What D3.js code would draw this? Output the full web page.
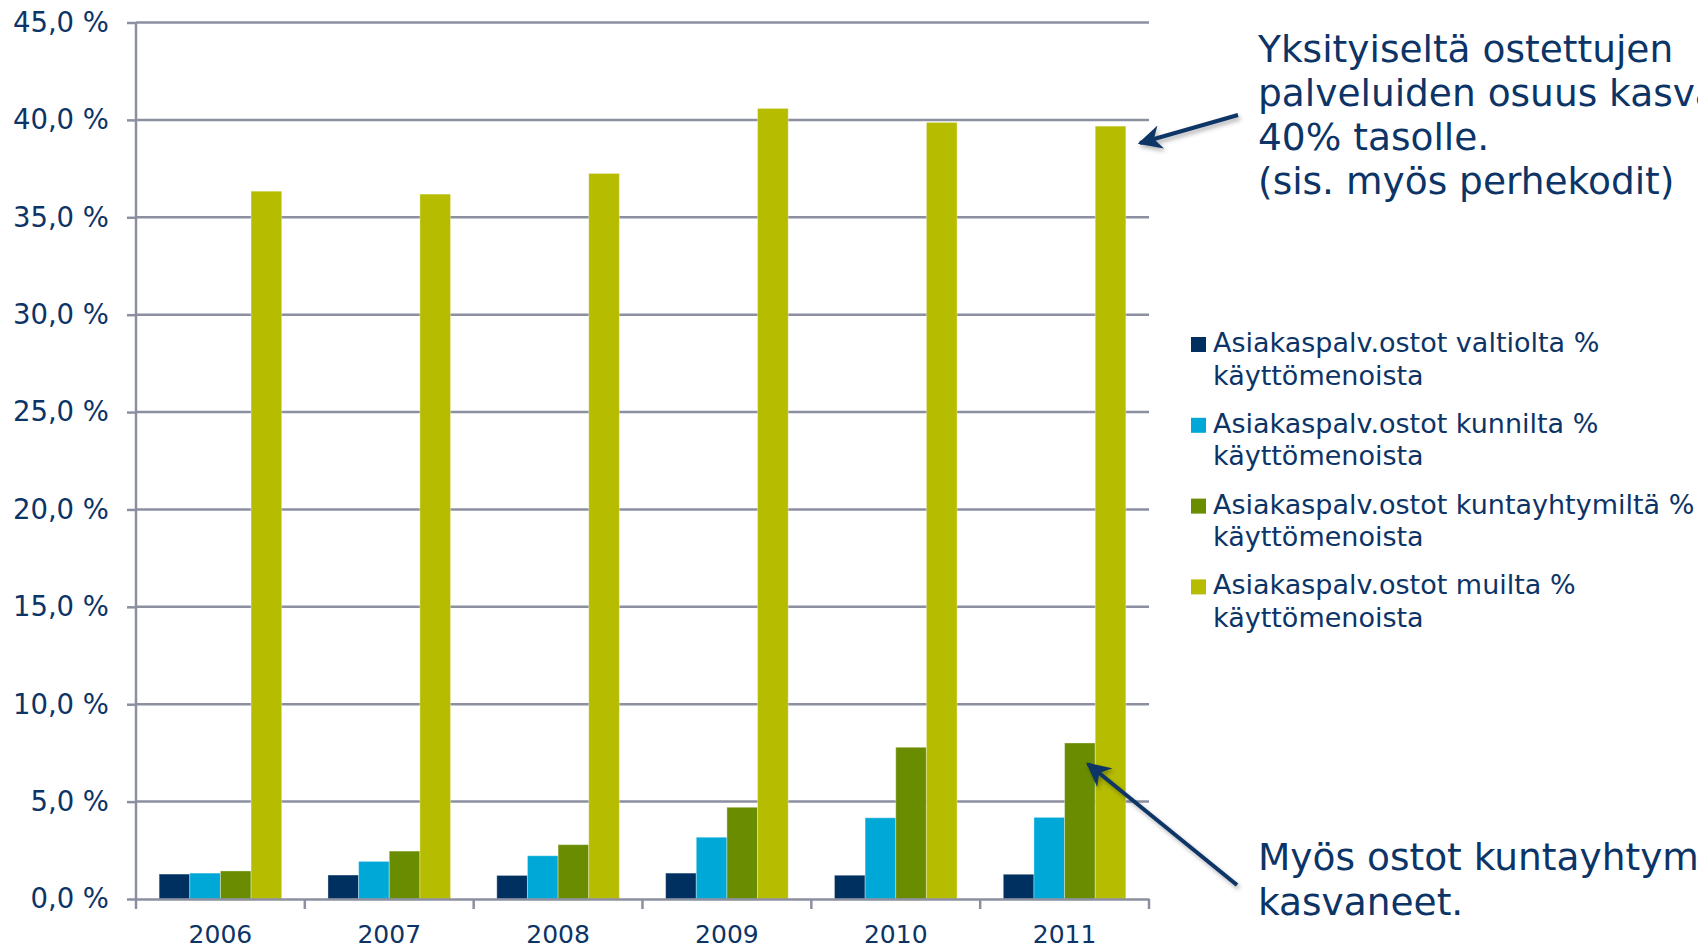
<!DOCTYPE html>
<html lang="fi">
<head>
<meta charset="UTF-8">
<title>Asiakaspalvelujen ostot</title>
<script src="https://cdn.jsdelivr.net/npm/d3@7"></script>
<style>
  body { margin: 0; background: #fff; }
  svg { display: block; }
  text { font-family: "DejaVu Sans", Verdana, sans-serif; fill: #0c3466; }
</style>
</head>
<body>
<script>
const years = ["2006", "2007", "2008", "2009", "2010", "2011"];
const seriesNames = [
  "Asiakaspalv.ostot valtiolta % käyttömenoista",
  "Asiakaspalv.ostot kunnilta % käyttömenoista",
  "Asiakaspalv.ostot kuntayhtymiltä % käyttömenoista",
  "Asiakaspalv.ostot muilta % käyttömenoista"
];
const valtiolta = [1.28, 1.23, 1.21, 1.33, 1.22, 1.27];
const kunnilta = [1.33, 1.93, 2.22, 3.17, 4.17, 4.19];
const kuntayhtymilta = [1.44, 2.46, 2.79, 4.71, 7.79, 8.01];
const muilta = [36.34, 36.19, 37.25, 40.59, 39.87, 39.68];
const yTicks = [0, 5, 10, 15, 20, 25, 30, 35, 40, 45];
const colors = ["#00305f", "#00a8d7", "#6a8c00", "#b6bc00"];
const noteTop = ["Yksityiseltä ostettujen", "palveluiden osuus kasvanut", "40% tasolle.", "(sis. myös perhekodit)"];
const noteBottom = ["Myös ostot kuntayhtymiltä", "kasvaneet."];

const allSeries = [valtiolta, kunnilta, kuntayhtymilta, muilta];
const width = 1698, height = 948;

const svg = d3.select("body").append("svg")
    .attr("width", width)
    .attr("height", height);

const defs = svg.append("defs");
defs.append("filter").attr("id", "shadow")
    .attr("x", "-20%").attr("y", "-20%").attr("width", "140%").attr("height", "140%")
  .append("feDropShadow")
    .attr("dx", 2).attr("dy", 3).attr("stdDeviation", 2)
    .attr("flood-color", "#000").attr("flood-opacity", 0.3);
defs.append("marker").attr("id", "head")
    .attr("viewBox", "0 0 10 10")
    .attr("refX", 9).attr("refY", 5)
    .attr("markerWidth", 6).attr("markerHeight", 6)
    .attr("markerUnits", "strokeWidth")
    .attr("orient", "auto")
  .append("path")
    .attr("d", "M0,0 L10,5 L0,10 L3,5 Z")
    .attr("fill", "#0c3466");

const x = d3.scaleBand().domain(years).range([136, 1149]).padding(0);
const x1 = d3.scaleBand().domain(d3.range(4))
    .range([x.bandwidth() * 0.137, x.bandwidth() * 0.863]).padding(0);
const y = d3.scaleLinear().domain([0, 45]).range([899, 22.5]);

// gridlines + y axis
const yAxis = svg.append("g")
    .attr("transform", "translate(136,0)")
    .call(d3.axisLeft(y).tickValues(yTicks).tickSize(9).tickPadding(18)
      .tickFormat(d => d.toFixed(1).replace(".", ",") + " %"));
yAxis.select(".domain").remove();
yAxis.selectAll(".tick line").attr("stroke", "#8c8fa0").attr("stroke-width", 2.5);
yAxis.selectAll(".tick text")
    .attr("font-size", 27.5)
    .attr("fill", "#0c3466");

svg.append("g").selectAll("line")
    .data(yTicks.filter(d => d > 0))
    .join("line")
    .attr("x1", 136).attr("x2", 1149)
    .attr("y1", d => y(d)).attr("y2", d => y(d))
    .attr("stroke", "#8c8fa0").attr("stroke-width", 2.5);

// bars
const groups = svg.append("g").selectAll("g")
    .data(years)
    .join("g")
    .attr("transform", d => `translate(${x(d)},0)`);

groups.selectAll("rect")
    .data((yr, i) => allSeries.map((s, k) => ({ k, v: s[i] })))
    .join("rect")
    .attr("x", d => x1(d.k))
    .attr("width", x1.bandwidth())
    .attr("y", d => y(d.v))
    .attr("height", d => y(0) - y(d.v))
    .attr("fill", d => colors[d.k])
    .attr("stroke", "rgba(255,255,255,0.35)")
    .attr("stroke-width", 1);

// axes lines
svg.append("line")
    .attr("x1", 136).attr("x2", 136).attr("y1", y(45)).attr("y2", y(0))
    .attr("stroke", "#8c8fa0").attr("stroke-width", 2.5);

const xAxis = svg.append("g")
    .attr("transform", `translate(0,${y(0)})`)
    .call(d3.axisBottom(x).tickSize(0).tickPadding(26));
xAxis.select(".domain").attr("stroke", "#8c8fa0").attr("stroke-width", 2.5);
xAxis.selectAll(".tick text").attr("font-size", 25).attr("fill", "#0c3466");
svg.append("g").selectAll("line")
    .data(years.map(d => x(d)).concat([x.range()[1]]))
    .join("line")
    .attr("x1", d => d).attr("x2", d => d)
    .attr("y1", y(0)).attr("y2", y(0) + 10)
    .attr("stroke", "#8c8fa0").attr("stroke-width", 2.5);

// legend
const legend = svg.append("g").attr("transform", "translate(1191,0)");
const items = legend.selectAll("g")
    .data(seriesNames)
    .join("g")
    .attr("transform", (d, i) => `translate(0,${352 + i * 80.8})`);
items.append("rect")
    .attr("x", 0).attr("y", -15)
    .attr("width", 15).attr("height", 15)
    .attr("fill", (d, i) => colors[i]);
items.append("text")
    .attr("x", 22)
    .attr("font-size", 27)
    .selectAll("tspan")
    .data(d => {
      const cut = d.lastIndexOf(" ");
      return [d.slice(0, cut), d.slice(cut + 1)];
    })
    .join("tspan")
    .attr("x", 22)
    .attr("dy", (d, i) => i === 0 ? 0 : 32.5)
    .text(d => d);

// annotations
svg.append("text")
    .attr("font-size", 37.5)
    .selectAll("tspan")
    .data(noteTop)
    .join("tspan")
    .attr("x", 1258)
    .attr("y", (d, i) => 62 + i * 44)
    .text(d => d);

svg.append("text")
    .attr("font-size", 37.5)
    .selectAll("tspan")
    .data(noteBottom)
    .join("tspan")
    .attr("x", 1258)
    .attr("y", (d, i) => 870 + i * 45)
    .text(d => d);

const arrows = [
  { from: [1238, 115], to: [1140, 143] },
  { from: [1237, 885], to: [1088, 764] }
];
svg.append("g").attr("filter", "url(#shadow)")
  .selectAll("line")
  .data(arrows)
  .join("line")
    .attr("x1", d => d.from[0]).attr("y1", d => d.from[1])
    .attr("x2", d => d.to[0]).attr("y2", d => d.to[1])
    .attr("stroke", "#0c3466")
    .attr("stroke-width", 4)
    .attr("marker-end", "url(#head)");
</script>
</body>
</html>
